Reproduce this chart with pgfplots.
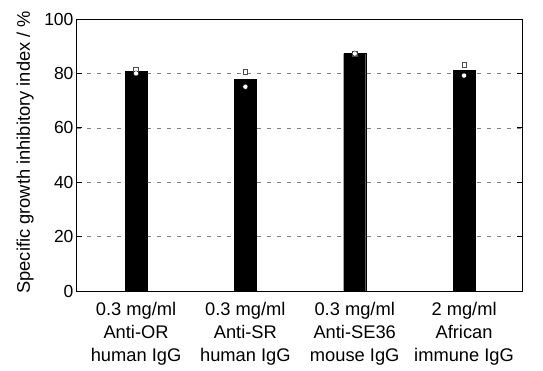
\documentclass[border=0pt]{standalone}
\usepackage{pgfplots}
\pgfplotsset{compat=1.18}
\usepackage{fontspec}
\setmainfont{Liberation Sans}

\begin{document}
\begin{tikzpicture}
\begin{axis}[
  scale only axis,
  width=445pt, height=272pt,
  xmin=-0.54, xmax=3.53,
  ymin=0, ymax=100,
  ytick={0,20,40,60,80,100},
  xtick={0,1,2,3},
  xticklabels={
    {0.3 mg/ml\\Anti-OR\\human IgG},
    {0.3 mg/ml\\Anti-SR\\human IgG},
    {0.3 mg/ml\\Anti-SE36\\mouse IgG},
    {2 mg/ml\\African\\immune IgG}},
  xticklabel style={align=center, font=\fontsize{18.3}{23}\selectfont, yshift=-8pt},
  yticklabel style={font=\fontsize{17.5}{20}\selectfont},
  /pgf/number format/assume math mode=true,
  x tick style={draw=none},
  y tick style={black, line width=0.8pt},
  tick align=inside,
  major tick length=5pt,
  ymajorgrids,
  grid style={gray, dash pattern=on 4pt off 6pt, line width=0.6pt},
  axis line style={line width=1pt},
  ylabel={Specific growth inhibitory index / \%},
  ylabel style={font=\fontsize{18.3}{22}\selectfont,
    at={(axis description cs:-0.1438,0.51)}, anchor=north},
  clip=false,
]
% mean values
\addplot[ybar, bar width=22pt, fill=black, draw=black] coordinates {
  (0,80.8) (1,77.8) (2,87.3) (3,81.2)
};
% first replicate
\addplot[only marks, mark=square*, mark size=2.3pt,
  mark options={fill=white, draw=black!70, line width=0.5pt}] coordinates {
  (0,81.5) (1,80.5) (2,87.3) (3,83.2)
};
% second replicate
\addplot[only marks, mark=*, mark size=2.6pt,
  mark options={fill=white, draw=black, line width=0.4pt}] coordinates {
  (0,80.0) (1,75.1) (2,87.3) (3,79.2)
};
\end{axis}
\pgfresetboundingbox
\path[use as bounding box] ([shift={(-77pt,-79pt)}]current axis.south west)
  rectangle ([shift={(21pt,19pt)}]current axis.north east);
\end{tikzpicture}
\end{document}
